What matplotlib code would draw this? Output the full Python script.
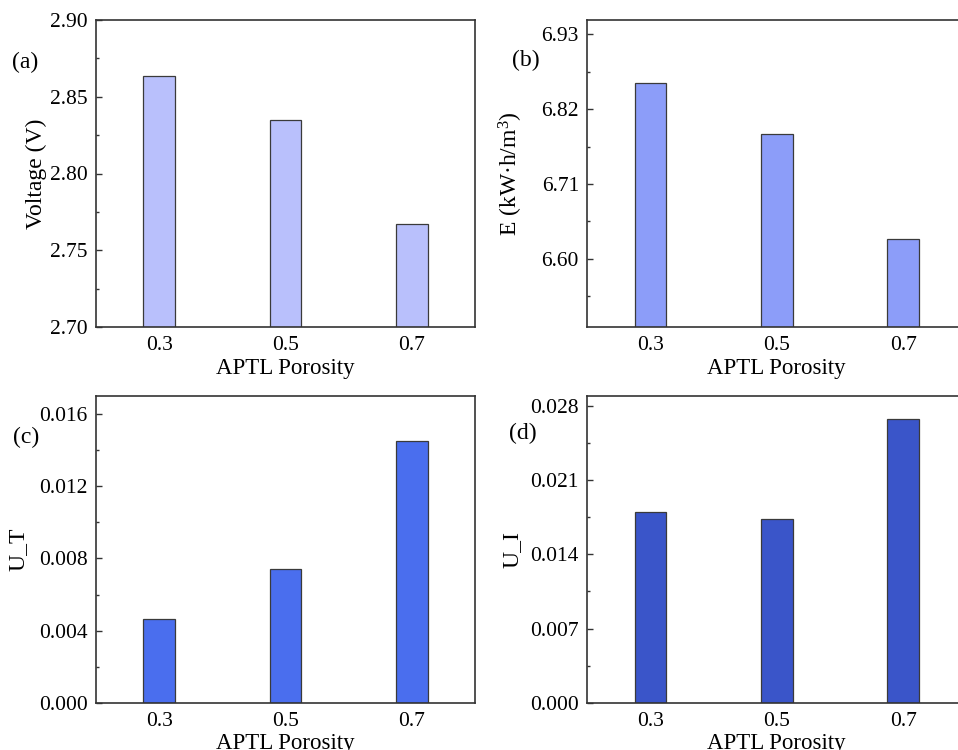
import matplotlib
matplotlib.use("Agg")
import matplotlib.pyplot as plt
from matplotlib.ticker import FixedLocator

plt.rcParams['font.family'] = ['Liberation Serif', 'DejaVu Serif']
plt.rcParams['mathtext.fontset'] = 'custom'
plt.rcParams['mathtext.rm'] = 'Liberation Serif'
plt.rcParams['mathtext.it'] = 'Liberation Serif:italic'

porosity = [0.3, 0.5, 0.7]
tick_labels = ["0.3", "0.5", "0.7"]
voltage = [2.8635, 2.8350, 2.7670]
energy = [6.8587, 6.7836, 6.6289]
u_t = [0.00463, 0.00742, 0.01453]
u_i = [0.01798, 0.01734, 0.02679]

panels = [
    dict(vals=voltage, color="#B9C0FC", ylim=(2.70, 2.90), major=[2.70, 2.75, 2.80, 2.85, 2.90],
         fmt="{:.2f}", ylabel="Voltage (V)", tag="(a)", rect=(96, 20), labx=-0.129, tagpos=(25, 62)),
    dict(vals=energy, color="#8C9DF9", ylim=(6.50, 6.951), major=[6.60, 6.71, 6.82, 6.93],
         fmt="{:.2f}", ylabel="E (kW·h/m$^3$)", tag="(b)", rect=(587.3, 20), labx=-0.164, tagpos=(526, 60)),
    dict(vals=u_t, color="#4A6EEE", ylim=(0, 0.01703), major=[0, 0.004, 0.008, 0.012, 0.016],
         fmt="{:.3f}", ylabel="U_T", tag="(c)", rect=(96, 395.7), labx=-0.179, tagpos=(26, 437)),
    dict(vals=u_i, color="#3A55C9", ylim=(0, 0.02897), major=[0, 0.007, 0.014, 0.021, 0.028],
         fmt="{:.3f}", ylabel="U_I", tag="(d)", rect=(587.3, 395.7), labx=-0.17, tagpos=(523, 433)),
]

W, H = 958, 750
fig = plt.figure(figsize=(W / 100, H / 100), dpi=100)
aw, ah = 379, 307

for p in panels:
    x0, top = p["rect"]
    ax = fig.add_axes([x0 / W, (H - top - ah) / H, aw / W, ah / H])
    ax.bar(porosity, p["vals"], width=0.05, color=p["color"], edgecolor="#3a3a3a", linewidth=0.9, zorder=2)
    ax.set_xlim(0.2, 0.8)
    ax.set_ylim(*p["ylim"])
    ax.set_xticks(porosity)
    ax.set_xticklabels(tick_labels)
    maj = p["major"]
    ax.yaxis.set_major_locator(FixedLocator(maj))
    step = maj[1] - maj[0]
    minors = [m + step / 2 for m in [maj[0] - step] + maj]
    ax.yaxis.set_minor_locator(FixedLocator(minors))
    ax.set_yticklabels([p["fmt"].format(v) for v in maj])
    ax.tick_params(axis='y', which='major', direction='in', length=4, width=1, pad=6, labelsize=15.5, color="#333333")
    ax.tick_params(axis='y', which='minor', direction='in', length=2, width=1, color="#333333")
    ax.tick_params(axis='x', which='both', length=0, pad=6.5, labelsize=15.5)
    for s in ax.spines.values():
        s.set_color("#333333")
        s.set_linewidth(1.2)
    ax.set_xlabel("APTL Porosity", fontsize=16.5)
    ax.xaxis.set_label_coords(0.5, -0.1)
    ax.set_ylabel(p["ylabel"], fontsize=17)
    ax.yaxis.set_label_coords(p["labx"], 0.5)
    tx, ty = p["tagpos"]
    fig.text(tx / W, 1 - ty / H, p["tag"], fontsize=17, ha="center", va="center")

fig.savefig("out.png", dpi=100)
